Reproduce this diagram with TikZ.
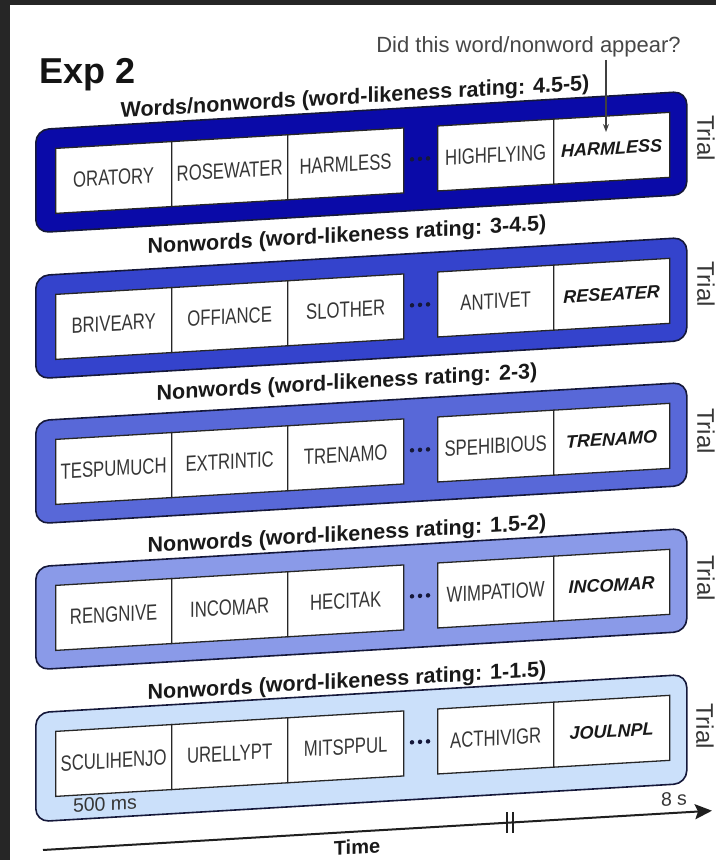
\documentclass[tikz,border=0pt]{standalone}
\usepackage{fontspec}
\setmainfont{Liberation Sans}
\newfontfamily\condfont[FakeStretch=0.76]{Liberation Sans}
\usetikzlibrary{arrows.meta}
\definecolor{frame}{HTML}{262626}
\definecolor{rowA}{HTML}{0A0AA8}
\definecolor{rowB}{HTML}{3443CC}
\definecolor{rowC}{HTML}{5868D8}
\definecolor{rowD}{HTML}{8A9AE8}
\definecolor{rowE}{HTML}{CBE0FA}
\definecolor{edge}{HTML}{15183A}
\definecolor{txt}{HTML}{363636}
\tikzset{
  trialbox/.style={draw=edge, line width=1.6pt, rounded corners=13pt, anchor=north west,
    minimum width=651pt, inner sep=0pt, transform shape},
  wbox/.style={draw=black!85, fill=white, line width=1.3pt, anchor=north west,
    minimum width=116pt, minimum height=65pt, inner sep=0pt,
    font=\condfont\fontsize{22}{24}\selectfont, text=txt, transform shape},
  probe/.style={wbox, font=\bfseries\itshape\fontsize{18}{20}\selectfont, text=black!90},
  rowtitle/.style={font=\bfseries\fontsize{21.5}{24}\selectfont, text=black!90,
    transform shape, inner sep=0pt},
  triallabel/.style={font=\fontsize{24}{26}\selectfont, text=txt, rotate=-90, inner sep=0pt},
  dotmark/.style={circle, fill=edge, inner sep=0pt, minimum size=4.5pt, transform shape},
  smalllabel/.style={font=\fontsize{19.5}{22}\selectfont, text=txt, inner sep=0pt, transform shape},
}
% #1 id, #2 colour, #3 outer top, #4 outer height, #5-#9 words
\newcommand{\myrow}[9]{%
  \node[trialbox, fill=#2, minimum height=#4pt] (row#1) at (35,-#3) {};
  \node[wbox] (w#1a) at (55,-#3-20) {#5};
  \node[wbox] (w#1b) at (171,-#3-20) {#6};
  \node[wbox] (w#1c) at (287,-#3-20) {#7};
  \node[wbox] (w#1d) at (437,-#3-20) {#8};
  \node[probe] (w#1e) at (553,-#3-20) {#9};
  \foreach \i/\dx in {1/412,2/420,3/428}
    \node[dotmark] (dot#1\i) at (\dx,-#3-52.5) {};
}
\begin{document}
\begin{tikzpicture}[x=1pt,y=1pt]
\useasboundingbox (0,0) rectangle (716,-860);
\fill[frame] (0,0) rectangle (716,-860);
\fill[white] (10,-5) rectangle (716,-860);

\node[font=\bfseries\fontsize{36}{40}\selectfont, text=black!92, anchor=base west, inner sep=0pt]
  (exp) at (39,-83) {Exp 2};
\node[font=\fontsize{22}{26}\selectfont, text=black!72, anchor=base east, inner sep=0pt]
  (question) at (681,-52) {Did this word/nonword appear?};

\begin{scope}[yslant=0.0587]
  \myrow{1}{rowA}{131}{103}{ORATORY}{ROSEWATER}{HARMLESS}{HIGHFLYING}{HARMLESS}
  \myrow{2}{rowB}{277}{103}{BRIVEARY}{OFFIANCE}{SLOTHER}{ANTIVET}{RESEATER}
  \myrow{3}{rowC}{422}{103}{TESPUMUCH}{EXTRINTIC}{TRENAMO}{SPEHIBIOUS}{TRENAMO}
  \myrow{4}{rowD}{568}{103}{RENGNIVE}{INCOMAR}{HECITAK}{WIMPATIOW}{INCOMAR}
  \myrow{5}{rowE}{714}{109}{SCULIHENJO}{URELLYPT}{MITSPPUL}{ACTHIVIGR}{JOULNPL}

  \node[rowtitle] (title1) at (355,-119) {Words/nonwords (word-likeness rating: 4.5-5)};
  \node[rowtitle] (title2) at (347,-257) {Nonwords (word-likeness rating: 3-4.5)};
  \node[rowtitle] (title3) at (347,-404) {Nonwords (word-likeness rating: 2-3)};
  \node[rowtitle] (title4) at (347,-556) {Nonwords (word-likeness rating: 1.5-2)};
  \node[rowtitle] (title5) at (347,-703) {Nonwords (word-likeness rating: 1-1.5)};

  \node[smalllabel] (ms) at (105,-810) {500 ms};
  \node[smalllabel] (eight) at (674,-838.6) {8 s};

  \coordinate (axisstart) at (43,-852.5);
  \coordinate (axisend) at (712,-852.5);
  \draw[line width=2pt, black!88, -{Stealth[length=17pt,width=15pt,inset=3pt]}]
    (axisstart) -- (axisend);
  \draw[line width=1.6pt, black!88] (507,-842) -- (507,-863) (513,-842) -- (513,-863);
  \node[font=\bfseries\fontsize{20}{22}\selectfont, text=black!90, inner sep=0pt, transform shape]
    (time) at (357,-868) {Time};
\end{scope}

\coordinate (qtip) at (606,-132);
\draw[line width=1.1pt, black!75, shorten <=3pt, -{Stealth[length=8pt,width=6pt]}]
  (question.south -| qtip) -- (qtip);

\node[triallabel] (trial1) at (706,-138) {Trial};
\node[triallabel] (trial2) at (706,-284) {Trial};
\node[triallabel] (trial3) at (706,-431) {Trial};
\node[triallabel] (trial4) at (706,-578) {Trial};
\node[triallabel] (trial5) at (705,-726) {Trial};
\end{tikzpicture}
\end{document}
